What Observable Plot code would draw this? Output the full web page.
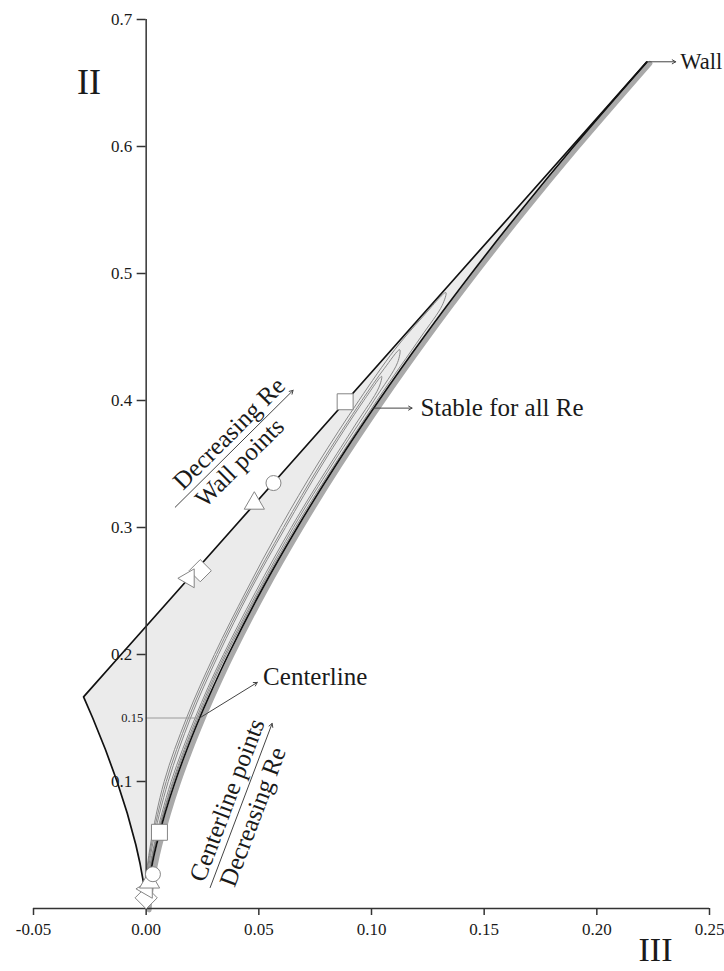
<!DOCTYPE html>
<html><head><meta charset="utf-8">
<script src="https://cdn.jsdelivr.net/npm/d3@7"></script>
<script src="https://cdn.jsdelivr.net/npm/@observablehq/plot@0.6"></script>
<style>html,body{margin:0;padding:0;background:#fff;overflow:hidden}svg{display:block}</style>
</head><body><div id="chart"></div>
<script>
// ---- tick labels ----
const xTicks = [-0.05, 0, 0.05, 0.10, 0.15, 0.20, 0.25];
const xTickLabels = ["-0.05", "0.00", "0.05", "0.10", "0.15", "0.20", "0.25"];
const yTicks = [0.1, 0.2, 0.3, 0.4, 0.5, 0.6, 0.7];
const yTickLabels = ["0.1", "0.2", "0.3", "0.4", "0.5", "0.6", "0.7"];

// ---- anisotropy map boundary (III, II) ----
const boundaryII = [0, 0.005, 0.01, 0.02, 0.035, 0.05, 0.075, 0.1, 0.125, 0.15, 0.16667, 0.2, 0.25, 0.3, 0.35, 0.4, 0.45, 0.5, 0.55, 0.6, 0.66667];
const leftIII = [0, -0.00014, -0.00041, -0.00115, -0.00267, -0.00456, -0.00839, -0.01291, -0.01804, -0.02372, -0.02778, -0.01111, 0.01389, 0.03889, 0.06389, 0.08889, 0.11389, 0.13889, 0.16389, 0.18889, 0.22222];
const rightIII = [0, 0.00014, 0.00041, 0.00115, 0.00267, 0.00456, 0.00839, 0.01291, 0.01804, 0.02372, 0.02778, 0.03651, 0.05103, 0.06708, 0.08453, 0.10328, 0.12324, 0.14434, 0.16652, 0.18974, 0.22222];

// ---- stability contours (tongues) ----
const contourA_II = [0, 0.02, 0.05, 0.1, 0.15, 0.2, 0.25, 0.3, 0.35, 0.4, 0.44, 0.465, 0.485, 0.475, 0.45, 0.4, 0.3, 0.2, 0.15, 0.1, 0.05, 0.02, 0];
const contourA_III = [0, -0.0002, 0.0019, 0.0080, 0.0179, 0.0303, 0.0444, 0.0595, 0.0761, 0.0944, 0.1103, 0.1223, 0.1330, 0.1314, 0.1219, 0.1024, 0.0662, 0.0356, 0.0230, 0.0122, 0.0041, 0.0009, 0];
const contourB_II = [0, 0.02, 0.05, 0.1, 0.15, 0.2, 0.25, 0.3, 0.35, 0.4, 0.425, 0.44, 0.43, 0.4, 0.35, 0.3, 0.2, 0.15, 0.1, 0.05, 0.02, 0];
const contourB_III = [0, 0.0000, 0.0023, 0.0089, 0.0188, 0.0312, 0.0453, 0.0609, 0.0774, 0.0957, 0.1056, 0.1125, 0.1116, 0.1011, 0.0827, 0.0653, 0.0350, 0.0224, 0.0118, 0.0039, 0.0007, 0];
const contourC_II = [0, 0.02, 0.05, 0.1, 0.15, 0.2, 0.25, 0.3, 0.35, 0.4, 0.419, 0.41, 0.38, 0.3, 0.2, 0.15, 0.1, 0.05, 0.02, 0];
const contourC_III = [0, 0.0003, 0.0028, 0.0098, 0.0197, 0.0321, 0.0461, 0.0618, 0.0783, 0.0966, 0.1045, 0.1032, 0.0925, 0.0644, 0.0343, 0.0217, 0.0111, 0.0035, 0.0005, 0];

// ---- markers ----
const markerKinds = ["diamond", "triangleLeft", "triangle", "circle", "square"];
const wallIII = [0.0240, 0.0189, 0.0480, 0.0565, 0.0883];
const wallII = [0.266, 0.260, 0.319, 0.335, 0.399];
const centerIII = [0.0000, 0.0003, 0.0015, 0.0030, 0.0059];
const centerII = [0.0084, 0.0155, 0.0207, 0.027, 0.060];

// ---- annotations ----
const arrowFrom = [[0.2222, 0.6667], [0.1010, 0.394], [0.0237, 0.15], [0.0129, 0.316], [0.0284, 0.0165]];
const arrowTo = [[0.2350, 0.6667], [0.1180, 0.394], [0.0493, 0.178], [0.0652, 0.408], [0.0559, 0.1457]];
const labelText = ["Wall", "Stable for all Re", "Centerline"];
const labelAt = [[0.2370, 0.6667], [0.1217, 0.394], [0.0519, 0.182]];
const wallGroupText = ["Decreasing Re", "Wall points"];
const centerGroupText = ["Centerline points", "Decreasing Re"];
const specialTick = [0.15];
const specialTickLabel = ["0.15"];

// ---- build tables ----
const boundary = boundaryII.map((y, i) => ({II: y, left: leftIII[i], right: rightIII[i]}));
const contours = [
  ...contourA_II.map((y, i) => ({id: "A", II: y, III: contourA_III[i]})),
  ...contourB_II.map((y, i) => ({id: "B", II: y, III: contourB_III[i]})),
  ...contourC_II.map((y, i) => ({id: "C", II: y, III: contourC_III[i]}))
];
const markers = [
  ...markerKinds.map((k, i) => ({kind: k, III: wallIII[i], II: wallII[i]})),
  ...markerKinds.map((k, i) => ({kind: k, III: centerIII[i], II: centerII[i]}))
];
const arrows = arrowFrom.map((f, i) => ({x1: f[0], y1: f[1], x2: arrowTo[i][0], y2: arrowTo[i][1]}));
const labels = labelText.map((t, i) => ({text: t, x: labelAt[i][0], y: labelAt[i][1]}));
const labelSize = {"Wall": 22.5, "Stable for all Re": 25, "Centerline": 25};

// offsets (pixels) along / perpendicular to a rotated guide line
function offset(angleDeg, along, perp) {
  const a = angleDeg * Math.PI / 180;
  const ux = Math.cos(a), uy = Math.sin(a);     // along the line (screen)
  const nx = uy, ny = -ux;                      // perpendicular, toward upper-left
  return {dx: along * ux + perp * nx, dy: along * uy + perp * ny};
}
const wallAngle = -45, centerAngle = -69.3;
const oWallTop = offset(wallAngle, 17, 14), oWallBot = offset(wallAngle, 20, -14);
const oCenTop = offset(centerAngle, 2, 15), oCenBot = offset(centerAngle, 8, -15);

const triangleLeft = {
  draw(context, size) {
    const s = Math.sqrt(size / (Math.sqrt(3) / 4));
    const h = s * Math.sqrt(3) / 2;
    context.moveTo(-h * 2 / 3, 0);
    context.lineTo(h / 3, -s / 2);
    context.lineTo(h / 3, s / 2);
    context.closePath();
  }
};
const symbolStyle = {
  square: {symbol: "square", r: 9},
  circle: {symbol: "circle", r: 7.5},
  triangle: {symbol: "triangle", r: 7.5},
  triangleLeft: {symbol: triangleLeft, r: 7},
  diamond: {symbol: "diamond2", r: 10}
};
const markerMarks = markerKinds.map(k => Plot.dot(markers.filter(d => d.kind === k), {
  x: "III", y: "II", symbol: symbolStyle[k].symbol, r: symbolStyle[k].r,
  fill: "white", stroke: "#858585", strokeWidth: 1
}));

const serif = "'Liberation Serif', 'Times New Roman', serif";
const ink = "#1a1a1a";
const annoSize = 25;

const chart = Plot.plot({
  width: 724, height: 971,
  marginLeft: 33, marginRight: 15, marginTop: 19, marginBottom: 63,
  x: {domain: [-0.05, 0.25]},
  y: {domain: [0, 0.7]},
  style: {fontFamily: serif, fontSize: "17px", color: ink, background: "#fff"},
  marks: [
    Plot.areaX(boundary, {y: "II", x1: "left", x2: "right", fill: "#ebebeb"}),
    Plot.line(boundary, {x: "right", y: "II", stroke: "#a9a9a9", strokeWidth: 5, dx: 3, dy: 1.5, curve: "catmull-rom"}),
    Plot.line(contours, {x: "III", y: "II", z: "id", stroke: "#7c7c7c", strokeWidth: 0.9, curve: "catmull-rom"}),
    Plot.line(boundary, {x: "left", y: "II", stroke: "#111", strokeWidth: 1.7}),
    Plot.line(boundary, {x: "right", y: "II", stroke: "#111", strokeWidth: 1.7, curve: "catmull-rom"}),
    Plot.ruleY(specialTick, {x1: 0, x2: arrowFrom[2][0], stroke: "#9a9a9a", strokeWidth: 1}),
    Plot.ruleX([0], {y1: 0, y2: 0.7, stroke: "#333", strokeWidth: 1.5}),
    Plot.ruleY([0], {stroke: "#333", strokeWidth: 1.5}),
    Plot.axisX(xTicks, {anchor: "bottom", tickSize: 7, tickPadding: 7, strokeWidth: 1.5, stroke: "#333",
      tickFormat: d => xTickLabels[xTicks.indexOf(d)], fontSize: 17, label: null}),
    Plot.axisY(yTicks, {x: 0, anchor: "left", tickSize: 9, tickPadding: 5, strokeWidth: 1.5, stroke: "#333",
      tickFormat: d => yTickLabels[yTicks.indexOf(d)], fontSize: 17, label: null}),
    Plot.text(specialTickLabel, {x: 0, y: specialTick[0], dx: -3, textAnchor: "end", fontSize: 12.5, fill: ink}),
    ...markerMarks,
    Plot.arrow(arrows, {x1: "x1", y1: "y1", x2: "x2", y2: "y2", stroke: "#444", strokeWidth: 1, headLength: 6}),
    Plot.text(labels, {x: "x", y: "y", text: "text", textAnchor: "start", fontSize: d => labelSize[d.text], fill: ink}),
    Plot.text([wallGroupText[0]], {x: arrows[3].x1, y: arrows[3].y1, rotate: wallAngle, textAnchor: "start", lineAnchor: "middle",
      dx: oWallTop.dx, dy: oWallTop.dy, fontSize: annoSize, fill: ink}),
    Plot.text([wallGroupText[1]], {x: arrows[3].x1, y: arrows[3].y1, rotate: wallAngle, textAnchor: "start", lineAnchor: "middle",
      dx: oWallBot.dx, dy: oWallBot.dy, fontSize: annoSize, fill: ink}),
    Plot.text([centerGroupText[0]], {x: arrows[4].x1, y: arrows[4].y1, rotate: centerAngle, textAnchor: "start", lineAnchor: "middle",
      dx: oCenTop.dx, dy: oCenTop.dy, fontSize: annoSize, fill: ink}),
    Plot.text([centerGroupText[1]], {x: arrows[4].x1, y: arrows[4].y1, rotate: centerAngle, textAnchor: "start", lineAnchor: "middle",
      dx: oCenBot.dx, dy: oCenBot.dy, fontSize: annoSize, fill: ink}),
    Plot.text(["II"], {frameAnchor: "top-left", textAnchor: "middle", lineAnchor: "middle", dx: 55.5, dy: 63, fontSize: 36, fill: ink}),
    Plot.text(["III"], {frameAnchor: "bottom-left", textAnchor: "middle", lineAnchor: "middle", dx: 622, dy: 42, fontSize: 34, fill: ink})
  ]
});
document.getElementById("chart").appendChild(chart);
</script></body></html>
